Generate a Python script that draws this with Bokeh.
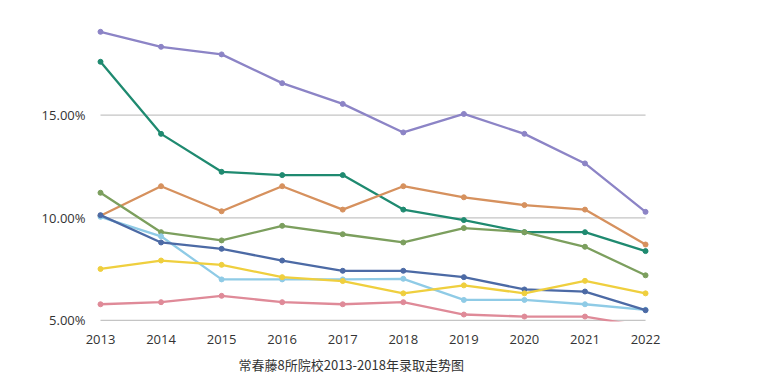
from bokeh.plotting import figure
from bokeh.models import Range1d, FixedTicker, PrintfTickFormatter, Title
from bokeh.embed import file_html
from bokeh.resources import INLINE

years = [2013, 2014, 2015, 2016, 2017, 2018, 2019, 2020, 2021, 2022]

purple = [19.06, 18.33, 17.96, 16.56, 15.55, 14.16, 15.06, 14.09, 12.65, 10.29]
teal = [17.60, 14.09, 12.24, 12.08, 12.08, 10.40, 9.89, 9.30, 9.30, 8.38]
orange = [10.10, 11.54, 10.32, 11.54, 10.40, 11.54, 11.00, 10.62, 10.40, 8.70]
olive = [11.22, 9.30, 8.90, 9.61, 9.20, 8.80, 9.50, 9.30, 8.59, 7.20]
darkblue = [10.13, 8.80, 8.49, 7.92, 7.42, 7.42, 7.11, 6.51, 6.41, 5.50]
lightblue = [10.05, 9.10, 7.00, 7.00, 7.00, 7.03, 6.00, 6.00, 5.79, 5.52]
yellow = [7.51, 7.92, 7.71, 7.11, 6.92, 6.32, 6.71, 6.32, 6.93, 6.32]
pink = [5.79, 5.89, 6.20, 5.89, 5.79, 5.89, 5.29, 5.19, 5.19, 4.70]

grid_values = [5, 10, 15]
title_text = "常春藤8所院校2013-2018年录取走势图"

series = [
    (purple, "#8c84c6"),
    (teal, "#1f8a70"),
    (orange, "#d6915e"),
    (olive, "#7c9f5e"),
    (lightblue, "#8fcbe6"),
    (darkblue, "#4c6aa5"),
    (yellow, "#efcf3e"),
    (pink, "#df8a98"),
]

px_per_year = 60.56
px_per_pct = 20.53
frame_w = 560
frame_h = 303

p = figure(output_backend="svg", toolbar_location=None,
           x_range=Range1d(2013 - 7 / px_per_year, 2013 - 7 / px_per_year + frame_w / px_per_year),
           y_range=Range1d(4.95, 4.95 + frame_h / px_per_pct),
           frame_width=frame_w, frame_height=frame_h,
           min_border_left=93, min_border_top=18, min_border_right=10, min_border_bottom=3)
p.outline_line_color = None
p.background_fill_color = "white"
p.border_fill_color = "white"
p.xgrid.visible = False
p.ygrid.visible = False

p.segment(x0=[years[0]] * len(grid_values), x1=[years[-1]] * len(grid_values),
          y0=grid_values, y1=grid_values, line_color="#c4c4c4", line_width=1.3)

for vals, col in series:
    p.line(years, vals, line_color=col, line_width=2.3)
    p.scatter(years, vals, size=5, fill_color=col, line_color=col)

p.xaxis.ticker = FixedTicker(ticks=years)
p.yaxis.ticker = FixedTicker(ticks=grid_values)
p.yaxis.formatter = PrintfTickFormatter(format="%.2f%%")
for ax in (p.xaxis[0], p.yaxis[0]):
    ax.axis_line_color = None
    ax.major_tick_line_color = None
    ax.minor_tick_line_color = None
    ax.major_tick_out = 0
    ax.major_tick_in = 0
    ax.major_label_text_font = "Open Sans"
    ax.major_label_text_font_size = "13px"
    ax.major_label_text_color = "#333333"
p.xaxis.major_label_standoff = 13
p.yaxis.major_label_standoff = 8

t = Title(text=title_text, align="left", offset=145, standoff=12, text_font="Noto Sans CJK SC",
          text_font_size="13px", text_font_style="normal", text_color="#333333")
p.add_layout(t, "below")

open("out.html", "w").write(file_html(p, INLINE))
